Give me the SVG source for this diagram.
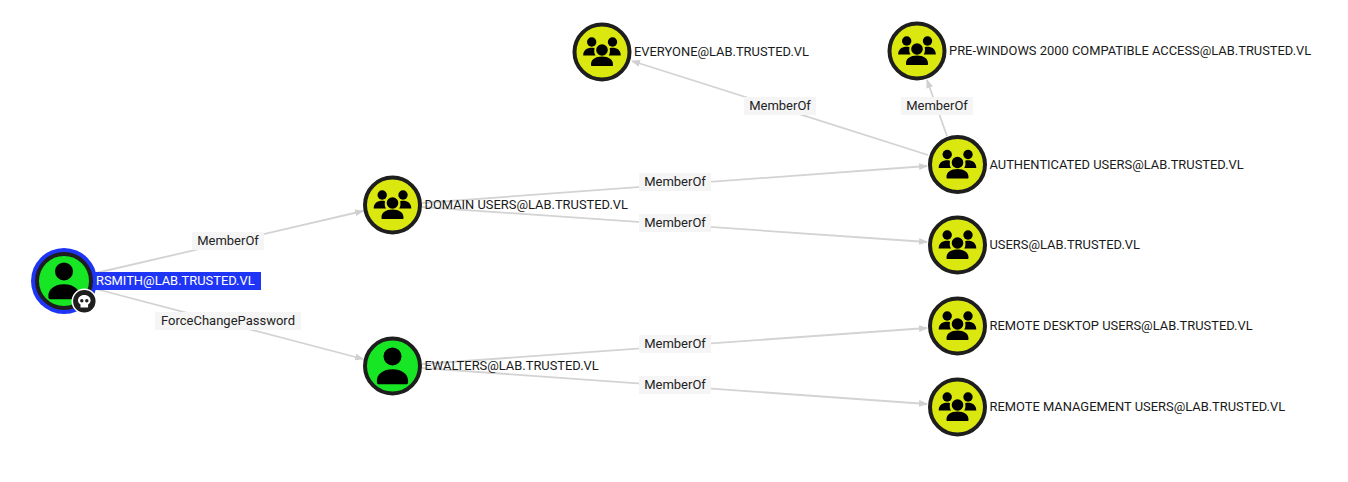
<svg xmlns="http://www.w3.org/2000/svg" xmlns:xlink="http://www.w3.org/1999/xlink" width="1348" height="482" viewBox="0 0 1348 482">
<style>
text{font-family:Roboto,"Liberation Sans",sans-serif;font-size:12.9px;fill:#1a1a1a}
.edge{stroke:#d3d3d3;stroke-width:1.8;fill:none;marker-end:url(#arrow)}
.lb{fill:#f5f5f5}
.el{font-size:13px;text-anchor:middle;fill:#222}
.ring{stroke:#1e1e1e;stroke-width:4}
.grp{fill:#dbe80f}
.usr{fill:#17e625}
</style>
<defs>
<marker id="arrow" markerUnits="userSpaceOnUse" markerWidth="9" markerHeight="7" refX="8" refY="3.500" orient="auto"><path d="M0 0L9 3.500L0 7Z" fill="#d0d0d0"/></marker>
<symbol id="group" overflow="visible" viewBox="-20 -20 40 40" width="40" height="40">
<circle cx="-10.300" cy="-10" r="4.700"/><circle cx="10.500" cy="-10" r="4.700"/><circle cx="0" cy="-2" r="5.800"/>
<path d="M-18.800 3.500C-18.800 -1.800 -15 -4.200 -10.300 -4.200C-9.300 -4.200 -8.300 -4.100 -7.500 -3.800C-8 -1 -7.800 1.500 -6.500 3.500Z"/>
<path d="M18.800 3.500C18.800 -1.800 15 -4.200 10.500 -4.200C9.500 -4.200 8.500 -4.100 7.700 -3.800C8.200 -1 8 1.500 6.700 3.500Z"/>
<path d="M-11 13C-11.300 7.500 -6.500 4.600 0 4.600C6.500 4.600 11.300 7.500 11 13C11 13.600 10.600 14 10 14L-10 14C-10.600 14 -11 13.600 -11 13Z"/>
</symbol>
<symbol id="user" overflow="visible" viewBox="-20 -20 40 40" width="40" height="40">
<circle cx="0" cy="-9.600" r="9"/>
<path d="M-15.600 16.500C-16.500 8 -9 3.300 0 3.300C9 3.300 16.500 8 15.600 16.500C15.500 17.700 14.700 18.300 13.500 18.300L-13.500 18.300C-14.700 18.300 -15.500 17.700 -15.600 16.500Z"/>
</symbol>
</defs>
<g id="connectors">
<path class="edge" d="M96 273L363 211"/>
<path class="edge" d="M96 289L363 359"/>
<path class="edge" d="M422 203L927 166"/>
<path class="edge" d="M422 207L927 242"/>
<path class="edge" d="M422 364L927 328"/>
<path class="edge" d="M422 368L927 404"/>
<path class="edge" d="M928 155L632 61"/>
<path class="edge" d="M947 136L927 80"/>
<rect class="lb" x="192" y="232" width="72" height="18"/><text class="el" x="228" y="245">MemberOf</text>
<rect class="lb" x="155" y="312" width="146" height="18"/><text class="el" x="228" y="325">ForceChangePassword</text>
<rect class="lb" x="639" y="173" width="72" height="18"/><text class="el" x="675" y="186">MemberOf</text>
<rect class="lb" x="639" y="214" width="72" height="18"/><text class="el" x="675" y="227">MemberOf</text>
<rect class="lb" x="639" y="335" width="72" height="18"/><text class="el" x="675" y="348">MemberOf</text>
<rect class="lb" x="639" y="376" width="72" height="18"/><text class="el" x="675" y="389">MemberOf</text>
<rect class="lb" x="744" y="97" width="72" height="18"/><text class="el" x="780" y="110">MemberOf</text>
<rect class="lb" x="901" y="97" width="72" height="18"/><text class="el" x="937" y="110">MemberOf</text>
</g>
<g id="n-rsmith">
<rect x="92" y="272" width="169" height="18" fill="#1f35f5"/>
<circle cx="64" cy="281" r="33" fill="#1f35f5"/>
<circle class="ring usr" cx="64" cy="281" r="27"/>
<use xlink:href="#user" href="#user" x="44" y="261"/>
<circle cx="84.300" cy="301.300" r="12" fill="#1e1e1e" stroke="#fff" stroke-width="1.500"/>
<path d="M84.300 295C80.300 295 78 297.500 78 300.500C78 302.500 79.300 303.800 80.500 304.400L80.500 307.500L88.100 307.500L88.100 304.400C89.300 303.800 90.600 302.500 90.600 300.500C90.600 297.500 88.300 295 84.300 295Z" fill="#fff"/>
<circle cx="81.800" cy="300.800" r="1.700" fill="#1e1e1e"/><circle cx="86.800" cy="300.800" r="1.700" fill="#1e1e1e"/>
<text x="96" y="284.500" style="fill:#fff">RSMITH@LAB.TRUSTED.VL</text>
</g>
<g id="n-domain-users">
<circle class="ring grp" cx="392.500" cy="205" r="27.500"/>
<use xlink:href="#group" href="#group" x="372.500" y="185"/>
<text x="424.500" y="208.500">DOMAIN USERS@LAB.TRUSTED.VL</text>
</g>
<g id="n-ewalters">
<circle class="ring usr" cx="392.500" cy="366" r="27.500"/>
<use xlink:href="#user" href="#user" x="372.500" y="346"/>
<text x="424.500" y="369.500">EWALTERS@LAB.TRUSTED.VL</text>
</g>
<g id="n-everyone">
<circle class="ring grp" cx="602" cy="52" r="27.500"/>
<use xlink:href="#group" href="#group" x="582" y="32"/>
<text x="634" y="55.500">EVERYONE@LAB.TRUSTED.VL</text>
</g>
<g id="n-prewin">
<circle class="ring grp" cx="917" cy="51" r="27.500"/>
<use xlink:href="#group" href="#group" x="897" y="31"/>
<text x="949" y="54.500">PRE-WINDOWS 2000 COMPATIBLE ACCESS@LAB.TRUSTED.VL</text>
</g>
<g id="n-auth">
<circle class="ring grp" cx="957.500" cy="164.500" r="27.500"/>
<use xlink:href="#group" href="#group" x="937.500" y="144.500"/>
<text x="989.500" y="168.500">AUTHENTICATED USERS@LAB.TRUSTED.VL</text>
</g>
<g id="n-users">
<circle class="ring grp" cx="957.500" cy="245" r="27.500"/>
<use xlink:href="#group" href="#group" x="937.500" y="225"/>
<text x="989.500" y="248.500">USERS@LAB.TRUSTED.VL</text>
</g>
<g id="n-rdp">
<circle class="ring grp" cx="957.500" cy="326" r="27.500"/>
<use xlink:href="#group" href="#group" x="937.500" y="306"/>
<text x="989.500" y="329.500">REMOTE DESKTOP USERS@LAB.TRUSTED.VL</text>
</g>
<g id="n-rm">
<circle class="ring grp" cx="957.500" cy="407" r="27.500"/>
<use xlink:href="#group" href="#group" x="937.500" y="387"/>
<text x="989.500" y="410.500">REMOTE MANAGEMENT USERS@LAB.TRUSTED.VL</text>
</g>
</svg>
